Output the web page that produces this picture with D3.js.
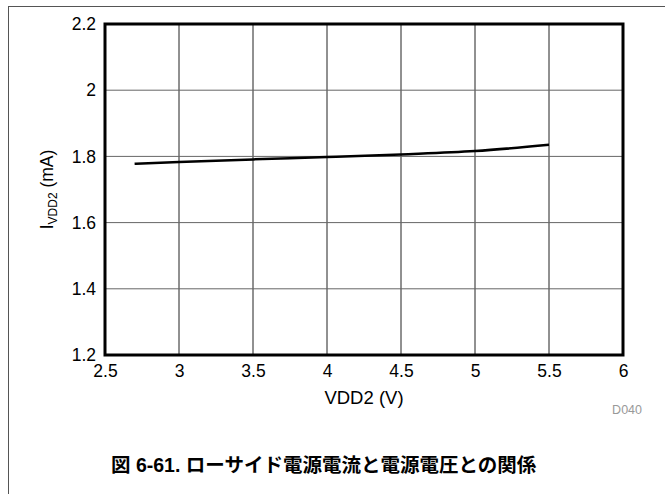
<!DOCTYPE html>
<html><head><meta charset="utf-8">
<script src="https://cdn.jsdelivr.net/npm/d3@7"></script>
<style>body{margin:0;background:#fff}svg{display:block}</style>
</head><body>
<svg id="c" width="665" height="494"></svg>
<script>
const vdd2 = [2.7, 3.0, 3.5, 4.0, 4.5, 5.0, 5.5];
const idd2 = [1.778, 1.783, 1.791, 1.798, 1.806, 1.816, 1.835];
const xTicks = [2.5, 3, 3.5, 4, 4.5, 5, 5.5, 6];
const yTicks = [1.2, 1.4, 1.6, 1.8, 2, 2.2];

const svg = d3.select("#c");
const L = 105, R = 623, T = 24, B = 355;
const x = d3.scaleLinear().domain([2.5, 6]).range([L, R]);
const y = d3.scaleLinear().domain([1.2, 2.2]).range([B, T]);
const font = "'Liberation Sans', Arial, sans-serif";

// frame
svg.append("line").attr("x1", 8.5).attr("x2", 8.5).attr("y1", 6).attr("y2", 494).attr("stroke", "#555").attr("stroke-width", 1);
svg.append("line").attr("x1", 8).attr("x2", 665).attr("y1", 6.5).attr("y2", 6.5).attr("stroke", "#555").attr("stroke-width", 1);

// grid
svg.append("g").selectAll("line").data(xTicks.slice(1, -1)).join("line")
  .attr("x1", d => x(d)).attr("x2", d => x(d)).attr("y1", T).attr("y2", B)
  .attr("stroke", "#222").attr("stroke-width", 1);
svg.append("g").selectAll("line").data(yTicks.slice(1, -1)).join("line")
  .attr("x1", L).attr("x2", R).attr("y1", d => y(d)).attr("y2", d => y(d))
  .attr("stroke", "#666").attr("stroke-width", 1);

// axes via d3
const xAxis = d3.axisBottom(x).tickValues(xTicks).tickSize(0).tickPadding(10).tickFormat(d3.format("~g"));
const gx = svg.append("g").attr("transform", `translate(0,${B})`).call(xAxis);
gx.select(".domain").remove();
gx.selectAll("text").attr("font-size", 17.5).attr("font-family", font).attr("fill", "#000");
const yAxis = d3.axisLeft(y).tickValues(yTicks).tickSize(0).tickPadding(9).tickFormat(d3.format("~g"));
const gy = svg.append("g").attr("transform", `translate(${L},0)`).call(yAxis);
gy.select(".domain").remove();
gy.selectAll("text").attr("font-size", 17.5).attr("font-family", font).attr("fill", "#000");

// plot border
svg.append("rect").attr("x", L).attr("y", T).attr("width", R - L).attr("height", B - T)
  .attr("fill", "none").attr("stroke", "#000").attr("stroke-width", 3);

// data line
const line = d3.line().x((d, i) => x(vdd2[i])).y(d => y(d)).curve(d3.curveMonotoneX);
svg.append("path").datum(idd2).attr("d", line).attr("fill", "none").attr("stroke", "#000").attr("stroke-width", 2.5);

// axis titles
svg.append("text").attr("x", 364).attr("y", 404).attr("text-anchor", "middle")
  .attr("font-size", 18.5).attr("font-family", font).text("VDD2 (V)");
const yt = svg.append("text").attr("transform", `translate(53,${(T + B) / 2}) rotate(-90)`)
  .attr("text-anchor", "middle").attr("font-size", 17.5).attr("font-family", font);
yt.append("tspan").text("I");
yt.append("tspan").attr("font-size", 12).attr("dy", 4).text("VDD2");
yt.append("tspan").attr("dy", -4).text(" (mA)");

svg.append("text").attr("x", 642).attr("y", 414).attr("text-anchor", "end")
  .attr("font-size", 12.5).attr("font-family", font).attr("fill", "#999").text("D040");

svg.append("text").attr("x", 111).attr("y", 472)
  .attr("font-size", 19.5).attr("font-weight", "bold")
  .attr("font-family", "'Liberation Sans', 'Noto Sans CJK JP', sans-serif")
  .text("図 6-61. ローサイド電源電流と電源電圧との関係");
</script>
</body></html>
